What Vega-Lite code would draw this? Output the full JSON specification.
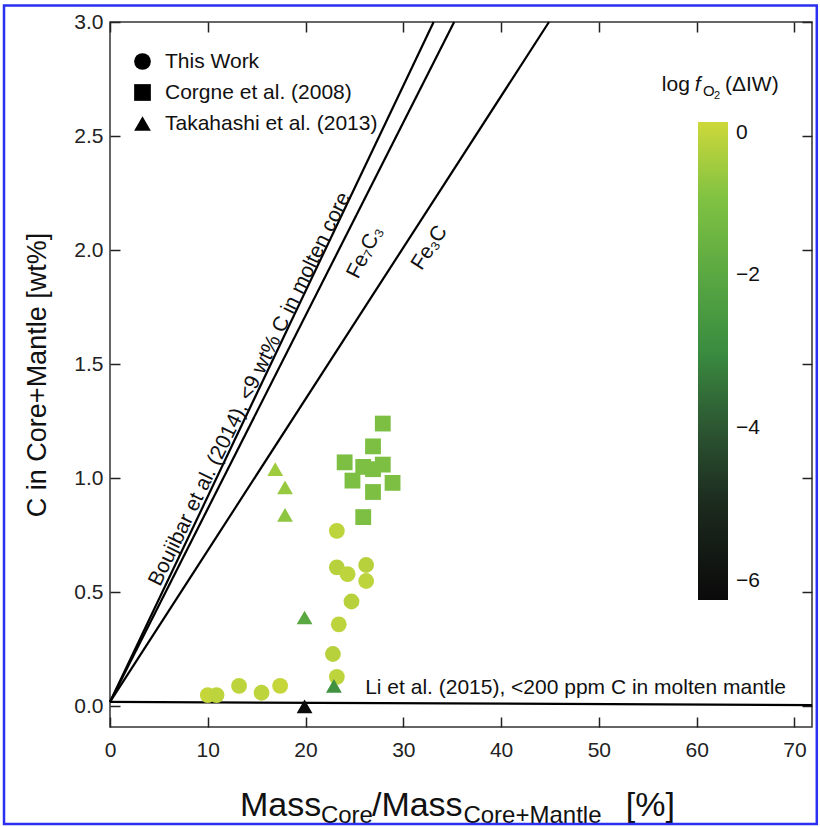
{
  "$schema": "https://vega.github.io/schema/vega-lite/v6.json",
  "width": 702,
  "height": 705,
  "autosize": {"type": "none"},
  "padding": {"left": 110, "top": 22, "right": 8, "bottom": 100},
  "background": "white",
  "config": {
    "view": {"stroke": "#333", "strokeWidth": 1.5},
    "font": "Liberation Sans",
    "axis": {"grid": false, "labelFont": "Liberation Sans", "labelFontSize": 21, "labelColor": "#222", "titleFont": "Liberation Sans", "titleFontWeight": "normal", "titleColor": "#111"},
    "legend": {"labelFont": "Liberation Sans", "labelColor": "#111"}
  },
  "resolve": {"axis": {"x": "independent", "y": "independent"}},
  "layer": [
    {
      "data": {"values": [
        {"line": "Boujibar", "x": 0, "y": 0.02}, {"line": "Boujibar", "x": 33.1, "y": 3.0},
        {"line": "Fe7C3", "x": 0, "y": 0.02}, {"line": "Fe7C3", "x": 35.2, "y": 3.0},
        {"line": "Fe3C", "x": 0, "y": 0.02}, {"line": "Fe3C", "x": 44.9, "y": 3.0},
        {"line": "Li", "x": 0, "y": 0.02}, {"line": "Li", "x": 71.8, "y": 0.006}
      ]},
      "mark": {"type": "line", "color": "#000", "strokeWidth": 2.2},
      "encoding": {
        "x": {"field": "x", "type": "quantitative", "scale": {"domain": [0, 71.8], "nice": false, "zero": false},
              "axis": {"orient": "bottom", "values": [0, 10, 20, 30, 40, 50, 60, 70], "domain": false, "ticks": true, "tickColor": "#222", "tickWidth": 1.5, "tickSize": 10, "offset": -10, "labelPadding": 12, "labelFlush": false, "title": null}},
        "y": {"field": "y", "type": "quantitative", "scale": {"domain": [-0.09, 3.0], "nice": false, "zero": false},
              "axis": {"orient": "left", "values": [0, 0.5, 1, 1.5, 2, 2.5, 3], "format": ".1f", "domain": false, "ticks": true, "tickColor": "#222", "tickWidth": 1.5, "tickSize": 10, "offset": -10, "labelPadding": 7, "labelFlush": false, "title": "C in Core+Mantle [wt%]", "titleFontSize": 27, "titlePadding": 22}},
        "detail": {"field": "line"}
      }
    },
    {
      "data": {"values": [
        {"source": "This Work", "x": 10.0, "y": 0.05, "fo2": -0.1},
        {"source": "This Work", "x": 10.9, "y": 0.05, "fo2": -0.2},
        {"source": "This Work", "x": 13.2, "y": 0.09, "fo2": -0.2},
        {"source": "This Work", "x": 15.5, "y": 0.06, "fo2": -0.2},
        {"source": "This Work", "x": 17.4, "y": 0.09, "fo2": -0.1},
        {"source": "This Work", "x": 23.2, "y": 0.77, "fo2": -0.2},
        {"source": "This Work", "x": 23.2, "y": 0.61, "fo2": -0.3},
        {"source": "This Work", "x": 24.3, "y": 0.58, "fo2": -0.2},
        {"source": "This Work", "x": 26.2, "y": 0.62, "fo2": -0.3},
        {"source": "This Work", "x": 26.2, "y": 0.55, "fo2": -0.2},
        {"source": "This Work", "x": 24.7, "y": 0.46, "fo2": -0.3},
        {"source": "This Work", "x": 23.4, "y": 0.36, "fo2": -0.2},
        {"source": "This Work", "x": 22.8, "y": 0.23, "fo2": -0.3},
        {"source": "This Work", "x": 23.2, "y": 0.13, "fo2": -0.2},
        {"source": "Corgne et al. (2008)", "x": 27.9, "y": 1.24, "fo2": -1.1},
        {"source": "Corgne et al. (2008)", "x": 24.0, "y": 1.07, "fo2": -1.1},
        {"source": "Corgne et al. (2008)", "x": 24.8, "y": 0.99, "fo2": -1.1},
        {"source": "Corgne et al. (2008)", "x": 25.9, "y": 1.05, "fo2": -1.1},
        {"source": "Corgne et al. (2008)", "x": 26.9, "y": 1.14, "fo2": -1.1},
        {"source": "Corgne et al. (2008)", "x": 26.9, "y": 1.04, "fo2": -1.1},
        {"source": "Corgne et al. (2008)", "x": 26.9, "y": 0.94, "fo2": -1.1},
        {"source": "Corgne et al. (2008)", "x": 27.9, "y": 1.06, "fo2": -1.1},
        {"source": "Corgne et al. (2008)", "x": 28.9, "y": 0.98, "fo2": -1.1},
        {"source": "Corgne et al. (2008)", "x": 25.9, "y": 0.83, "fo2": -1.1},
        {"source": "Takahashi et al. (2013)", "x": 16.9, "y": 1.04, "fo2": -0.6},
        {"source": "Takahashi et al. (2013)", "x": 17.9, "y": 0.96, "fo2": -0.7},
        {"source": "Takahashi et al. (2013)", "x": 17.9, "y": 0.84, "fo2": -0.8},
        {"source": "Takahashi et al. (2013)", "x": 19.9, "y": 0.39, "fo2": -2.0},
        {"source": "Takahashi et al. (2013)", "x": 22.9, "y": 0.09, "fo2": -2.8},
        {"source": "Takahashi et al. (2013)", "x": 19.9, "y": 0.0, "fo2": -6.2}
      ]},
      "mark": {"type": "point", "filled": true, "opacity": 1, "size": 250},
      "encoding": {
        "x": {"field": "x", "type": "quantitative", "scale": {"domain": [0, 71.8], "nice": false, "zero": false},
              "axis": {"orient": "top", "values": [0, 10, 20, 30, 40, 50, 60, 70], "domain": false, "ticks": true, "tickColor": "#222", "tickWidth": 1.5, "tickSize": 10, "offset": -10, "labels": false, "title": null}},
        "y": {"field": "y", "type": "quantitative", "scale": {"domain": [-0.09, 3.0], "nice": false, "zero": false},
              "axis": {"orient": "right", "values": [0, 0.5, 1, 1.5, 2, 2.5, 3], "domain": false, "ticks": true, "tickColor": "#222", "tickWidth": 1.5, "tickSize": 10, "offset": -10, "labels": false, "title": null}},
        "shape": {"field": "source", "type": "nominal",
                  "scale": {"domain": ["This Work", "Corgne et al. (2008)", "Takahashi et al. (2013)"], "range": ["circle", "square", "triangle-up"]},
                  "legend": {"orient": "none", "legendX": 22, "legendY": 29, "title": null, "labelFontSize": 21, "labelLimit": 0, "symbolSize": 280, "symbolFillColor": "#000", "symbolStrokeColor": "#000", "symbolStrokeWidth": 0, "rowPadding": 9, "labelOffset": 12, "padding": 0}},
        "color": {"field": "fo2", "type": "quantitative",
                  "scale": {"domain": [-6.25, -5, -4, -3, -2, -1, 0], "range": ["#0a0a0a", "#1c2a1e", "#2c5632", "#3a8c40", "#5aa842", "#80c242", "#cdd83a"], "interpolate": "rgb"},
                  "legend": {"orient": "none", "legendX": 588, "legendY": 100, "direction": "vertical", "title": null, "values": [0, -2, -4, -6], "gradientLength": 478, "gradientThickness": 30, "gradientStrokeWidth": 0, "labelFontSize": 21, "labelOffset": 8, "labelOverlap": false, "padding": 0}}
      }
    },
    {
      "data": {"values": [{"x": 14.3, "y": 1.39, "label": "Boujibar et al. (2014), <9 wt% C in molten core"}]},
      "mark": {"type": "text", "angle": -64, "fontSize": 21, "color": "#111", "align": "center", "baseline": "middle"},
      "encoding": {
        "x": {"field": "x", "type": "quantitative", "axis": null},
        "y": {"field": "y", "type": "quantitative", "axis": null},
        "text": {"field": "label"}
      }
    },
    {
      "data": {"values": [{"x": 26.1, "y": 1.99, "label": "Fe₇C₃"}]},
      "mark": {"type": "text", "angle": -63, "fontSize": 21, "color": "#111", "align": "center", "baseline": "middle"},
      "encoding": {
        "x": {"field": "x", "type": "quantitative", "axis": null},
        "y": {"field": "y", "type": "quantitative", "axis": null},
        "text": {"field": "label"}
      }
    },
    {
      "data": {"values": [{"x": 32.7, "y": 2.01, "label": "Fe₃C"}]},
      "mark": {"type": "text", "angle": -57, "fontSize": 21, "color": "#111", "align": "center", "baseline": "middle"},
      "encoding": {
        "x": {"field": "x", "type": "quantitative", "axis": null},
        "y": {"field": "y", "type": "quantitative", "axis": null},
        "text": {"field": "label"}
      }
    },
    {
      "data": {"values": [{"x": 26.1, "y": 0.081, "label": "Li et al. (2015), <200 ppm C in molten mantle"}]},
      "mark": {"type": "text", "fontSize": 21, "color": "#111", "align": "left", "baseline": "middle"},
      "encoding": {
        "x": {"field": "x", "type": "quantitative", "axis": null},
        "y": {"field": "y", "type": "quantitative", "axis": null},
        "text": {"field": "label"}
      }
    },
    {
      "data": {"values": [
        {"x": 56.44, "y": 2.697, "label": "log"},
        {"x": 62.9, "y": 2.697, "label": "(ΔIW)"}
      ]},
      "mark": {"type": "text", "fontSize": 21, "color": "#111", "align": "left", "baseline": "alphabetic"},
      "encoding": {
        "x": {"field": "x", "type": "quantitative", "axis": null},
        "y": {"field": "y", "type": "quantitative", "axis": null},
        "text": {"field": "label"}
      }
    },
    {
      "data": {"values": [{"x": 59.82, "y": 2.697, "label": "f"}]},
      "mark": {"type": "text", "fontSize": 21, "fontStyle": "italic", "color": "#111", "align": "left", "baseline": "alphabetic"},
      "encoding": {
        "x": {"field": "x", "type": "quantitative", "axis": null},
        "y": {"field": "y", "type": "quantitative", "axis": null},
        "text": {"field": "label"}
      }
    },
    {
      "data": {"values": [{"x": 60.64, "y": 2.676, "label": "O"}]},
      "mark": {"type": "text", "fontSize": 15, "color": "#111", "align": "left", "baseline": "alphabetic"},
      "encoding": {
        "x": {"field": "x", "type": "quantitative", "axis": null},
        "y": {"field": "y", "type": "quantitative", "axis": null},
        "text": {"field": "label"}
      }
    },
    {
      "data": {"values": [{"x": 61.78, "y": 2.664, "label": "2"}]},
      "mark": {"type": "text", "fontSize": 11, "color": "#111", "align": "left", "baseline": "alphabetic"},
      "encoding": {
        "x": {"field": "x", "type": "quantitative", "axis": null},
        "y": {"field": "y", "type": "quantitative", "axis": null},
        "text": {"field": "label"}
      }
    },
    {
      "data": {"values": [
        {"x": 13.29, "y": -0.48, "label": "Mass"},
        {"x": 26.79, "y": -0.48, "label": "/Mass"},
        {"x": 52.76, "y": -0.48, "label": "[%]"}
      ]},
      "mark": {"type": "text", "fontSize": 34, "color": "#111", "align": "left", "baseline": "alphabetic", "clip": false},
      "encoding": {
        "x": {"field": "x", "type": "quantitative", "axis": null},
        "y": {"field": "y", "type": "quantitative", "axis": null},
        "text": {"field": "label"}
      }
    },
    {
      "data": {"values": [
        {"x": 21.57, "y": -0.511, "label": "Core"},
        {"x": 36.15, "y": -0.511, "label": "Core+Mantle"}
      ]},
      "mark": {"type": "text", "fontSize": 24, "color": "#111", "align": "left", "baseline": "alphabetic", "clip": false},
      "encoding": {
        "x": {"field": "x", "type": "quantitative", "axis": null},
        "y": {"field": "y", "type": "quantitative", "axis": null},
        "text": {"field": "label"}
      }
    },
    {
      "data": {"values": [{"x0": -10.84, "x1": 72.29, "y0": 3.072, "y1": -0.515}]},
      "mark": {"type": "rect", "filled": false, "stroke": "#2a2ff0", "strokeWidth": 2.5, "clip": false},
      "encoding": {
        "x": {"field": "x0", "type": "quantitative", "axis": null},
        "x2": {"field": "x1"},
        "y": {"field": "y0", "type": "quantitative", "axis": null},
        "y2": {"field": "y1"}
      }
    }
  ]
}
